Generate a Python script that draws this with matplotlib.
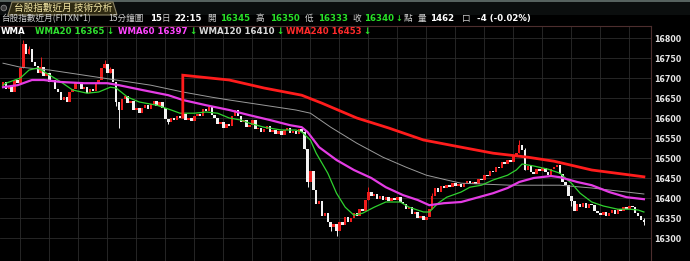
import matplotlib
matplotlib.use('Agg')
import matplotlib.pyplot as plt
from matplotlib.patches import Rectangle, Polygon, Circle

W, H = 690, 261

# ---------------- data ----------------
first_open = 16680
closes = [
    16690, 16672, 16680, 16665, 16695, 16688, 16725, 16785, 16760, 16772,
    16740, 16730, 16712, 16728, 16705, 16712, 16690, 16695, 16672, 16665,
    16645, 16652, 16640, 16665, 16672, 16688, 16690, 16672, 16678, 16662,
    16672, 16668, 16685, 16695, 16725, 16735, 16712, 16722, 16690, 16640,
    16620, 16648, 16655, 16638, 16642, 16620, 16625, 16612, 16625, 16632,
    16622, 16635, 16642, 16630, 16640, 16625, 16598, 16590, 16600, 16595,
    16605, 16600, 16610, 16595, 16600, 16592, 16605, 16610, 16605, 16622,
    16618, 16628, 16608, 16600, 16585, 16590, 16575, 16585, 16580, 16605,
    16620, 16605, 16590, 16595, 16578, 16582, 16595, 16572, 16575, 16565,
    16572, 16580, 16565, 16570, 16560, 16568, 16558, 16570, 16575, 16562,
    16568, 16560, 16572, 16565, 16522, 16440, 16468, 16420, 16385, 16392,
    16355, 16362, 16340, 16328, 16335, 16318, 16340, 16332, 16352, 16340,
    16350, 16362, 16355, 16372, 16368, 16395, 16415, 16405, 16410, 16398,
    16405, 16395, 16402, 16392, 16400, 16395, 16402, 16390, 16385, 16372,
    16378, 16360, 16365, 16350, 16355, 16345, 16352, 16372, 16405, 16425,
    16415, 16430, 16425, 16432, 16428, 16438, 16430, 16435, 16428, 16438,
    16442, 16435, 16440, 16436, 16448, 16445, 16458, 16455, 16468, 16465,
    16478, 16475, 16490, 16485, 16495, 16490, 16505, 16512, 16532, 16520,
    16470, 16480, 16465, 16460, 16472, 16468, 16475, 16465, 16458, 16472,
    16478, 16482, 16460, 16440, 16432, 16405, 16392, 16368, 16385, 16378,
    16388, 16375, 16385, 16382, 16368, 16362, 16358, 16365, 16355, 16362,
    16370, 16360, 16372, 16368, 16378, 16372, 16380, 16378, 16362, 16355,
    16345, 16340,
]
extra_high = {7: 16795, 9: 16780, 13: 16752, 35: 16745, 37: 16728, 104: 16572,
              126: 16428, 148: 16412, 178: 16545, 180: 16525, 221: 16350}
extra_low = {39: 16630, 40: 16575, 57: 16585, 105: 16428, 113: 16318, 115: 16305,
             196: 16380, 221: 16333}

wma20_x = [0, 1, 6, 9, 12, 15, 20, 24, 29, 33, 37, 39, 43, 47, 53, 58, 61, 66, 70, 74,
           78, 82, 85, 90, 96, 101, 103, 106, 108, 112, 115, 118, 121, 124, 128, 132,
           137, 140, 145, 147, 150, 153, 158, 161, 165, 169, 174, 177, 179, 183, 188,
           190, 192, 196, 199, 203, 207, 212, 216, 219, 221]
wma20_y = [16682, 16687, 16700, 16720, 16725, 16712, 16690, 16670, 16662, 16665, 16677,
           16675, 16652, 16640, 16632, 16620, 16612, 16612, 16615, 16612, 16600, 16595,
           16587, 16577, 16570, 16570, 16565, 16545, 16512, 16462, 16412, 16377, 16357,
           16362, 16377, 16390, 16390, 16377, 16365, 16365, 16387, 16402, 16415, 16427,
           16432, 16445, 16457, 16470, 16485, 16480, 16472, 16467, 16462, 16437, 16412,
           16390, 16380, 16372, 16372, 16370, 16365]

wma60_x = [0, 5, 10, 14, 20, 28, 36, 40, 48, 57, 62, 70, 78, 85, 92, 99, 103, 105, 109,
           115, 121, 127, 132, 138, 143, 147, 152, 158, 163, 169, 174, 178, 183, 189,
           192, 198, 203, 209, 215, 221]
wma60_y = [16677, 16682, 16695, 16695, 16690, 16687, 16687, 16682, 16670, 16657, 16645,
           16632, 16620, 16607, 16595, 16582, 16577, 16565, 16527, 16495, 16470, 16450,
           16427, 16407, 16395, 16382, 16387, 16390, 16400, 16412, 16425, 16440, 16450,
           16455, 16452, 16440, 16432, 16415, 16402, 16397]

wma120_x = [0, 6, 16, 28, 39, 51, 62, 72, 78, 90, 101, 106, 113, 122, 131, 139, 146,
            153, 158, 175, 192, 203, 215, 221]
wma120_y = [16737, 16727, 16720, 16707, 16695, 16682, 16665, 16652, 16645, 16632, 16620,
            16612, 16577, 16537, 16502, 16477, 16457, 16445, 16437, 16432, 16432, 16425,
            16415, 16410]

wma240_x = [62, 62, 78, 90, 103, 110, 122, 133, 145, 158, 169, 181, 190, 203, 221]
wma240_y = [16602, 16707, 16695, 16675, 16657, 16637, 16600, 16575, 16545, 16527, 16512,
            16502, 16492, 16470, 16453]

y_ticks = [16300, 16350, 16400, 16450, 16500, 16550, 16600, 16650, 16700, 16750, 16800]
grid_x = list(range(6, 222, 10))

# ---------------- figure ----------------
fig = plt.figure(figsize=(W / 100, H / 100), dpi=100, facecolor='black')


def px_rect(x0, y0, x1, y1):
    return [x0 / W, 1 - y1 / H, (x1 - x0) / W, (y1 - y0) / H]


ax_bg = fig.add_axes([0, 0, 1, 1])
ax_bg.set_xlim(0, W)
ax_bg.set_ylim(H, 0)
ax_bg.axis('off')
ax_bg.add_patch(Rectangle((0, 0), W, 15, facecolor='#0b0e0e', edgecolor='none'))
ax_bg.add_patch(Rectangle((0, 0), W, 2.2, facecolor='#56625f', edgecolor='none'))
ax_bg.add_patch(Polygon([(8, 15), (12, 2), (113, 2), (117, 15)], closed=True,
                        facecolor='#2f2a12', edgecolor='#8c8466', lw=0.8))
ax_bg.add_patch(Circle((3.8, 8), 2.8, facecolor='#3a3a3a', edgecolor='#888888', lw=0.6))

ax = fig.add_axes(px_rect(0, 26, 651, 261))
ax.set_facecolor('black')
ax.set_xlim((0 - 3) / 2.9, (651 - 3) / 2.9)
ax.set_ylim(16242.5, 16830)
for s in ['left', 'bottom']:
    ax.spines[s].set_visible(False)
for s in ['top', 'right']:
    ax.spines[s].set_color('#4d2e2e')
    ax.spines[s].set_linewidth(0.8)
ax.yaxis.tick_right()
ax.set_yticks(y_ticks)
ax.set_yticklabels([str(v) for v in y_ticks], fontsize=5.7, fontweight='bold',
                   color='#e6e6e6', family='DejaVu Sans')
ax.tick_params(axis='y', length=0, pad=2.5)
ax.set_xticks(grid_x)
ax.set_xticklabels([])
ax.tick_params(axis='x', length=0)
ax.grid(True, color='#2c2c2c', lw=0.6)
ax.set_axisbelow(True)

# candles
opens = [first_open] + closes[:-1]
for i, (o, c) in enumerate(zip(opens, closes)):
    up = c > o
    col = '#f01c1c' if up else '#f2f2f2'
    lo_b, hi_b = min(o, c), max(o, c)
    if hi_b - lo_b < 1.5:
        hi_b = lo_b + 1.5
    hi = extra_high.get(i, hi_b)
    lo = extra_low.get(i, lo_b)
    if hi > hi_b or lo < lo_b:
        ax.vlines(i, lo, hi, color=col, lw=0.7, zorder=2)
    ax.bar(i, hi_b - lo_b, bottom=lo_b, width=0.85, color=col, edgecolor='none',
           linewidth=0, zorder=2)

ax.plot(wma120_x, wma120_y, color='#9a9a9a', lw=0.7, zorder=3)
ax.plot(wma20_x, wma20_y, color='#2fd22f', lw=0.9, zorder=4)
ax.plot(wma60_x, wma60_y, color='#e43ce4', lw=1.6, zorder=4)
ax.plot(wma240_x, wma240_y, color='#ff1c1c', lw=2.0, zorder=5, solid_joinstyle='miter')

# ---------------- texts ----------------
ax_t = fig.add_axes([0, 0, 1, 1], zorder=10)
ax_t.set_xlim(0, W)
ax_t.set_ylim(H, 0)
ax_t.axis('off')
ax_t.patch.set_alpha(0)
renderer = fig.canvas.get_renderer()
CJK = ['Noto Sans CJK TC', 'DejaVu Sans']
GREEN = '#28e028'
GRAY = '#cfcfcf'
WHITE = '#ffffff'


def put(x, y, s, color, size=6.2, bold=True, fam=None):
    t = ax_t.text(x, y, s, color=color, fontsize=size,
                  fontweight='bold' if bold else 'normal',
                  family=fam if fam else ['DejaVu Sans'], va='center', ha='left')
    return t.get_window_extent(renderer=renderer).x1


put(14, 8.3, '台股指數近月 技術分析', '#f3e7a6', size=6.9, bold=False, fam=CJK)

r2 = 18.5
put(1, r2, '台股指數近月(FITXN*1)', GRAY, size=6.2, bold=False, fam=CJK)
put(108, r2, '15分鐘圖', GRAY, size=6.2, bold=False, fam=CJK)
e = put(150, r2, '15', WHITE)
put(e, r2, '日', GRAY, size=6.2, bold=False, fam=CJK)
put(174, r2, '22:15', WHITE)
put(207, r2, '開', GRAY, bold=False, fam=CJK)
put(220, r2, '16345', GREEN)
put(256, r2, '高', GRAY, bold=False, fam=CJK)
put(270, r2, '16350', GREEN)
put(305, r2, '低', GRAY, bold=False, fam=CJK)
put(318, r2, '16333', GREEN)
put(352, r2, '收', GRAY, bold=False, fam=CJK)
e = put(364, r2, '16340', GREEN)
e = put(e + 1, r2, '↓', GREEN, size=5.8)
put(e + 1.5, r2, '點', GRAY, bold=False, fam=CJK)
put(418, r2, '量', GRAY, bold=False, fam=CJK)
put(430, r2, '1462', WHITE)
put(462, r2, '口', GRAY, bold=False, fam=CJK)
put(477, r2, '-4 (-0.02%)', WHITE)

r3 = 32
put(1, r3, 'WMA', WHITE)
legend_items = [(35, 'WMA20 16365', '#2fe02f'), (118, 'WMA60 16397', '#ff44ff'),
                (199, 'WMA120 16410', '#d8d8d8'), (286, 'WMA240 16453', '#ff2a2a')]
for x0, s, col in legend_items:
    e = put(x0, r3, s, col)
    put(e + 1.5, r3, '↓', GREEN)

fig.savefig('out.png', dpi=100, facecolor='black')
